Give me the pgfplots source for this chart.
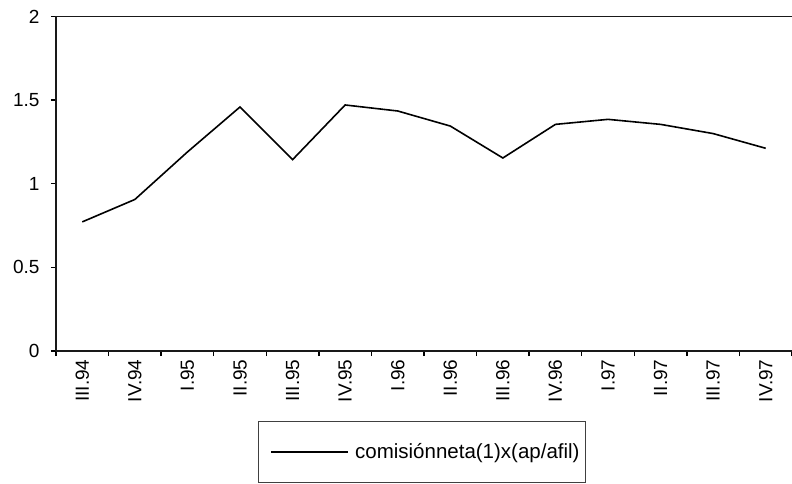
\documentclass[border=0pt]{standalone}
\usepackage{pgfplots}
\pgfplotsset{compat=1.18}
\usepackage{fontspec}
\setmainfont{Liberation Sans}
\begin{document}
\begin{tikzpicture}
\begin{axis}[
  name=ax,
  scale only axis, width=736pt, height=334.5pt,
  xmin=0.5, xmax=14.5, ymin=0, ymax=2,
  axis x line=box, axis y line=left,
  axis line style={-, line width=1.4pt, black!90},
  xtick={1,...,14},
  xticklabels={III.94,IV.94,I.95,II.95,III.95,IV.95,I.96,II.96,III.96,IV.96,I.97,II.97,III.97,IV.97},
  major x tick style={draw=none},
  minor xtick={0.5,1.5,...,14.5},
  xtick pos=bottom,
  minor x tick style={line width=1.4pt, black},
  minor tick length=5pt,
  ytick={0,0.5,1,1.5,2},
  ytick pos=left,
  y tick style={line width=1.4pt, black},
  major tick length=5pt,
  tick align=outside,
  x tick label style={rotate=90, anchor=east, font=\fontsize{19}{22}\selectfont},
  y tick label style={font=\fontsize{19}{22}\selectfont, xshift=-8pt},
  /pgf/number format/assume math mode=true,
  legend style={at={(0.2745,-0.209)}, anchor=north west, draw=black!75, line width=1pt,
    inner xsep=4pt, inner ysep=20pt, font=\fontsize{20.5}{23}\selectfont},
  legend image code/.code={\path (0pt,0pt); \draw[black, line width=1.8pt] (8pt,0pt) -- (85pt,0pt); \path (89pt,0pt);},
  clip=false,
]
\addplot[black, line width=1.6pt] coordinates {
(1,0.772) (2,0.906) (3,1.19) (4,1.459) (5,1.144) (6,1.471) (7,1.435)
(8,1.345) (9,1.154) (10,1.355) (11,1.385) (12,1.355) (13,1.30) (14,1.212)};
\addlegendentry{comisiónneta(1)x(ap/afil)}
\end{axis}
\pgfresetboundingbox
\path[use as bounding box] ([xshift=-56pt,yshift=-133pt]ax.south west) rectangle ([yshift=16.5pt]ax.north east);
\end{tikzpicture}
\end{document}
